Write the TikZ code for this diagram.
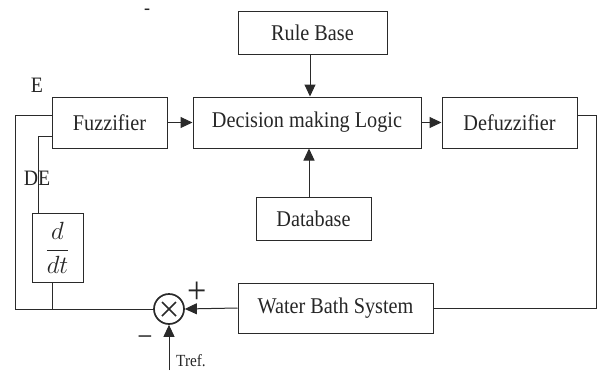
\documentclass[tikz,border=0pt]{standalone}
\usepackage{fontspec}
\setmainfont{Liberation Serif}[FakeStretch=0.9]
\usetikzlibrary{arrows.meta}
\definecolor{ln}{HTML}{2A2A2A}
\tikzset{
  blk/.style={draw=ln, line width=1pt, inner sep=0pt, font=\fontsize{22.5}{26}\selectfont, text=black!85},
  wire/.style={draw=ln, line width=1pt},
  arr/.style={wire, -{Triangle[length=12pt,width=11pt]}},
  lbl/.style={inner sep=0pt, font=\fontsize{22}{26}\selectfont, text=black!85}
}
\begin{document}
\begin{tikzpicture}[x=1pt,y=-1pt]
\useasboundingbox (0,0) rectangle (600,370);
\node[blk, minimum width=149pt, minimum height=43pt] (rb) at (312.5,32.5) {Rule Base};
\node[blk, minimum width=115pt, minimum height=51pt] (fuz) at (109.5,122.5) {Fuzzifier};
\node[blk, minimum width=228pt, minimum height=51pt] (dec) at (307,122.5) {Decision making Logic};
\node[blk, minimum width=135pt, minimum height=51pt] (def) at (509.5,122.5) {Defuzzifier};
\node[blk, minimum width=115pt, minimum height=43pt] (db) at (313.5,218.5) {Database};
\node[blk, minimum width=195pt, minimum height=50pt] (wb) at (335.5,308) {Water Bath System};
\node[blk, minimum width=51pt, minimum height=69pt, font=\fontsize{27}{30}\selectfont] (ddt) at (57.5,247.5) {$\displaystyle\frac{d}{dt}$};
\node[draw=ln, line width=1.7pt, circle, minimum size=30pt, inner sep=0pt] (sum) at (169,309) {};
\draw[ln, line width=1.5pt] ([shift={(-7,-7)}]sum.center) -- ([shift={(7,7)}]sum.center);
\draw[ln, line width=1.5pt] ([shift={(-7,7)}]sum.center) -- ([shift={(7,-7)}]sum.center);

\draw[arr] (fuz.east) -- (dec.west);
\draw[arr] (dec.east) -- (def.west);
\draw[arr] ([xshift=-2.5pt]rb.south) -- ([xshift=-2.5pt]rb.south |- dec.north);
\draw[arr] ([xshift=-4.5pt]db.north) -- ([xshift=-4.5pt]db.north |- dec.south);
\coordinate (r1) at (596,115);
\draw[wire] ([yshift=7.5pt]def.east) -- (r1) |- (wb.east);
\draw[arr] (wb.west) -- (sum.east);
\coordinate (l1) at (15,309);
\draw[wire] (sum.west) -- (l1) |- ([yshift=7.5pt]fuz.west);
\draw[wire] ([yshift=-13.5pt]fuz.west) -| ([xshift=-19.5pt]ddt.north);
\draw[wire] ([xshift=-5.5pt]ddt.south) -- ([xshift=-5.5pt]ddt.south |- sum.west);
\coordinate (tref) at (169,370);
\draw[arr] (tref) -- (sum.south);

\node[lbl] (le) at (37,85) {E};
\node[lbl] (lde) at (37,178) {DE};
\node[lbl, anchor=base west, font=\fontsize{17}{20}\selectfont] (lt) at (176,366) {Tref.};
\node[lbl, font=\fontsize{38}{40}\selectfont] (lp) at (197,293) {+};
\node[lbl, font=\fontsize{30}{32}\selectfont] (lm) at (145,341) {−};
\node[lbl, font=\fontsize{20}{22}\selectfont] (ld) at (147,12) {-};
\end{tikzpicture}
\end{document}
